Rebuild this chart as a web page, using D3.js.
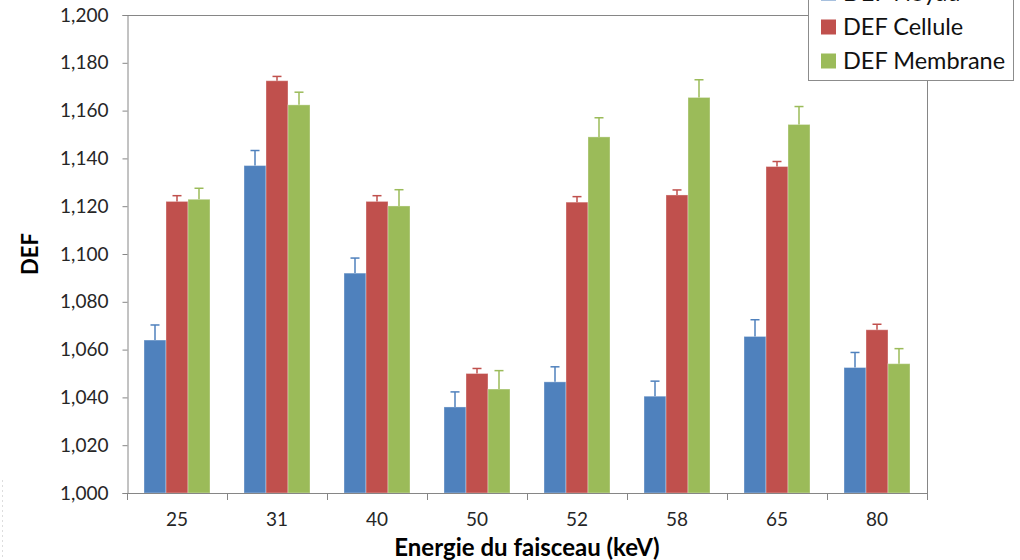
<!DOCTYPE html>
<html>
<head>
<meta charset="utf-8">
<script src="https://cdn.jsdelivr.net/npm/d3@7"></script>
<style>
  html, body { margin: 0; padding: 0; background: #fff; }
  svg { display: block; }
</style>
</head>
<body>
<svg id="chart" width="1020" height="560"></svg>
<script>
const categories = ["25", "31", "40", "50", "52", "58", "65", "80"];
const seriesNames = ["DEF Noyau", "DEF Cellule", "DEF Membrane"];
const noyau = [1.064, 1.137, 1.092, 1.036, 1.0465, 1.0405, 1.0655, 1.0525];
const noyauErr = [0.0063, 0.0063, 0.0063, 0.0063, 0.0063, 0.0063, 0.007, 0.0063];
const cellule = [1.122, 1.1725, 1.122, 1.050, 1.1217, 1.1247, 1.1366, 1.0683];
const celluleErr = [0.0024, 0.0018, 0.0024, 0.0021, 0.0023, 0.0021, 0.0021, 0.0023];
const membrane = [1.1229, 1.1624, 1.1201, 1.0435, 1.149, 1.1655, 1.1542, 1.0541];
const membraneErr = [0.0046, 0.0053, 0.0068, 0.0077, 0.008, 0.0074, 0.0075, 0.0063];
const yTicks = [1.0, 1.02, 1.04, 1.06, 1.08, 1.1, 1.12, 1.14, 1.16, 1.18, 1.2];
const xTitle = "Energie du faisceau (keV)";
const yTitle = "DEF";

const colors = ["#4F81BD", "#C0504D", "#9BBB59"];
const values = [noyau, cellule, membrane];
const errors = [noyauErr, celluleErr, membraneErr];

const svg = d3.select("#chart");
const pL = 127, pR = 927, pT = 15, pB = 493;
const font = "Lato, 'Open Sans', sans-serif";
const axisColor = "#868686";

const x = d3.scaleBand().domain(categories).range([pL, pR]).padding(0);
const x1 = d3.scaleBand().domain(seriesNames).range([17, 83]).padding(0);
const y = d3.scaleLinear().domain([1.0, 1.2]).range([pB, pT]);

const loc = d3.formatLocale({decimal: ",", thousands: " ", grouping: [3], currency: ["", ""]});
const fmt = loc.format(".3f");

// faint dotted artifact at far left
svg.append("line").attr("x1", 2.5).attr("x2", 2.5).attr("y1", 480).attr("y2", 560)
  .attr("stroke", "#ddd").attr("stroke-dasharray", "2,3");

// plot frame top/right
svg.append("line").attr("x1", pL).attr("x2", pR).attr("y1", pT + 0.5).attr("y2", pT + 0.5)
  .attr("stroke", axisColor);
svg.append("line").attr("x1", pR + 0.5).attr("x2", pR + 0.5).attr("y1", pT).attr("y2", pB)
  .attr("stroke", axisColor);

// bars
const data = [];
seriesNames.forEach((s, si) => categories.forEach((c, ci) => {
  data.push({s, si, c, v: values[si][ci], e: errors[si][ci]});
}));

svg.append("g").selectAll("rect").data(data).join("rect")
  .attr("x", d => x(d.c) + x1(d.s))
  .attr("width", x1.bandwidth())
  .attr("y", d => y(d.v))
  .attr("height", d => y(1.0) - y(d.v))
  .attr("fill", d => colors[d.si])
  .attr("stroke", "rgba(255,255,255,0.35)")
  .attr("stroke-width", 1);

// error bars (plus only)
const eg = svg.append("g");
data.forEach(d => {
  const cx = x(d.c) + x1(d.s) + x1.bandwidth() / 2;
  eg.append("line").attr("x1", cx).attr("x2", cx).attr("y1", y(d.v)).attr("y2", y(d.v + d.e))
    .attr("stroke", colors[d.si]).attr("stroke-width", 1.5);
  eg.append("line").attr("x1", cx - 4.5).attr("x2", cx + 4.5).attr("y1", y(d.v + d.e)).attr("y2", y(d.v + d.e))
    .attr("stroke", colors[d.si]).attr("stroke-width", 1.5);
});

// y axis
const yAxis = svg.append("g").attr("transform", `translate(${pL + 0.5},0)`)
  .call(d3.axisLeft(y).tickValues(yTicks).tickFormat(fmt).tickSize(5).tickPadding(14));
yAxis.select(".domain").attr("stroke", axisColor);
yAxis.selectAll(".tick line").attr("stroke", axisColor);
yAxis.selectAll("text").attr("font-family", font).attr("font-size", 19).attr("fill", "#262626");

// x axis
const xAxis = svg.append("g").attr("transform", `translate(0,${pB + 0.5})`)
  .call(d3.axisBottom(x).tickSize(0).tickPadding(19));
xAxis.select(".domain").attr("stroke", axisColor).attr("d", `M${pL},0H${pR + 1}`);
xAxis.selectAll("text").attr("font-family", font).attr("font-size", 19).attr("fill", "#262626");
// category boundary ticks
const bounds = categories.map(c => x(c)).concat([pR]);
svg.append("g").selectAll("line").data(bounds).join("line")
  .attr("x1", d => d + 0.5).attr("x2", d => d + 0.5)
  .attr("y1", pB).attr("y2", pB + 7)
  .attr("stroke", axisColor);

// axis titles
svg.append("text").attr("x", (pL + pR) / 2).attr("y", 556)
  .attr("text-anchor", "middle").attr("font-family", font).attr("font-weight", "bold")
  .attr("font-size", 24).attr("fill", "#000").text(xTitle);
svg.append("text").attr("transform", `translate(38,${(pT + pB) / 2}) rotate(-90)`)
  .attr("text-anchor", "middle").attr("font-family", font).attr("font-weight", "bold")
  .attr("font-size", 22).attr("fill", "#000").text(yTitle);

// legend
const lg = svg.append("g");
lg.append("rect").attr("x", 808.5).attr("y", -30).attr("width", 205).attr("height", 110.5)
  .attr("fill", "#fff").attr("stroke", "#8c8c8c");
const itemY = [-7, 27, 61];
seriesNames.forEach((s, i) => {
  lg.append("rect").attr("x", 821).attr("y", itemY[i] - 7.5).attr("width", 15).attr("height", 15)
    .attr("fill", colors[i]);
  lg.append("text").attr("x", 843).attr("y", itemY[i]).attr("dy", "0.36em")
    .attr("font-family", font).attr("font-size", 23.5).attr("fill", "#111").text(s);
});
</script>
</body>
</html>
